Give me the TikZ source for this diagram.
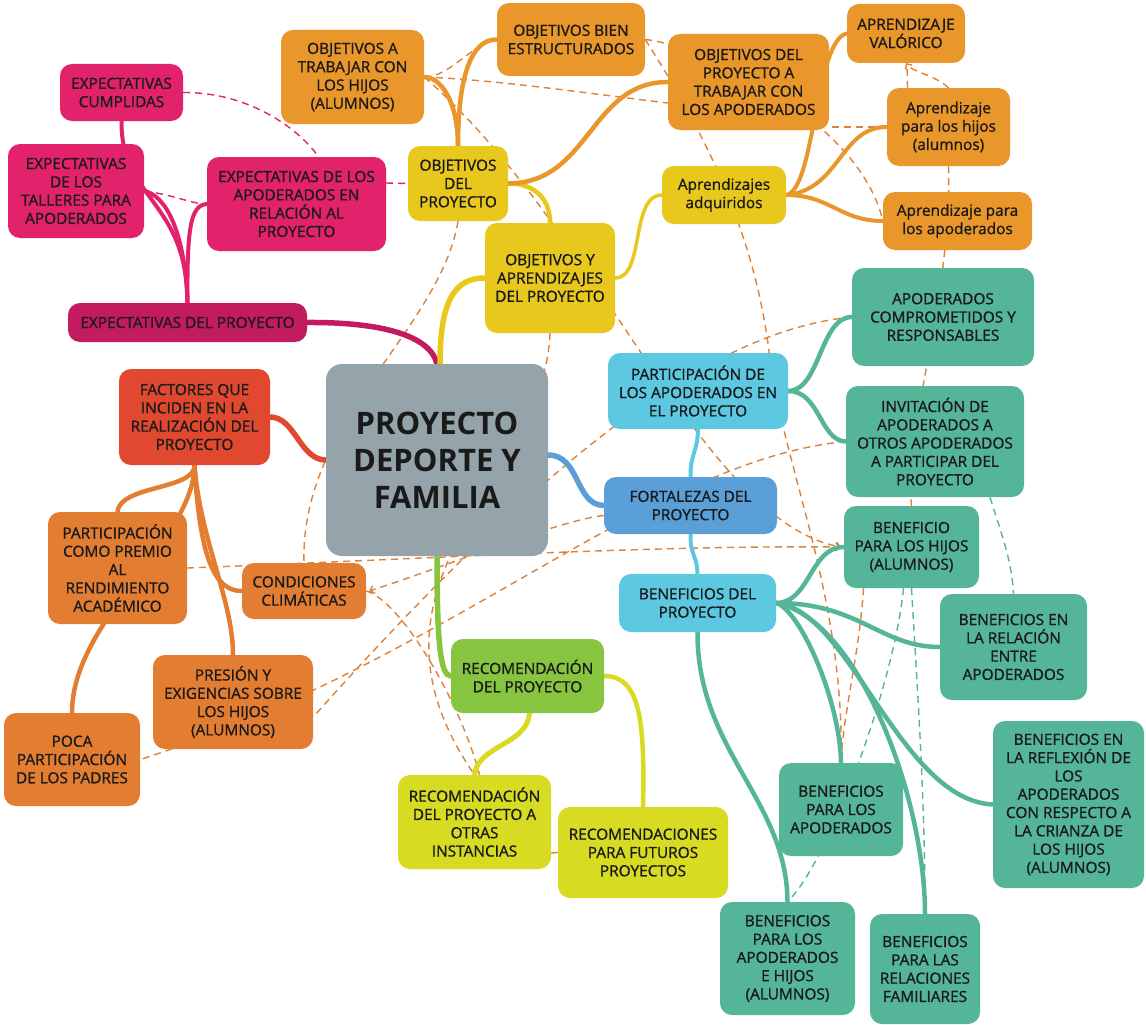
\documentclass[tikz,border=0pt]{standalone}
\usepackage{fontspec}
\setmainfont{Open Sans}
\newfontfamily\boxfont{Open Sans}[FakeBold=1.1]
\usetikzlibrary{backgrounds,arrows.meta}
\definecolor{cpink}{HTML}{E2236C}
\definecolor{cmag}{HTML}{C21B60}
\definecolor{cgold}{HTML}{E9962B}
\definecolor{cyel}{HTML}{E8C81C}
\definecolor{cteal}{HTML}{55B598}
\definecolor{clblue}{HTML}{5DC8E1}
\definecolor{cblue}{HTML}{5B9FD9}
\definecolor{cgray}{HTML}{95A3AB}
\definecolor{cred}{HTML}{E0492F}
\definecolor{corange}{HTML}{E37D32}
\definecolor{cgreen}{HTML}{87C540}
\definecolor{cygreen}{HTML}{D7DB22}
\definecolor{cdash}{HTML}{DD8238}
\definecolor{ctext}{HTML}{1A1A1A}
\tikzset{
  box/.style={rounded corners=12pt, inner sep=0pt, align=center, text=ctext,
    font=\boxfont\fontsize{15.4}{18.3}\selectfont},
  sz/.style 2 args={minimum width=#1pt, minimum height=#2pt},
  conn/.style={line cap=round, line width=#1},
  dsh/.style={draw=cdash, line width=1.4pt, dash pattern=on 7pt off 5pt},
  tdsh/.style={dsh, draw=cteal},
  barb/.style={-{Straight Barb[length=4pt,width=8pt]}}
}
\begin{document}
\begin{tikzpicture}[x=1pt,y=-1pt]
\useasboundingbox (0,0) rectangle (1146,1025);
% nodes
\node[box, fill=cpink, sz={123}{57}] (ec) at (121.5,92.5) {EXPECTATIVAS\\CUMPLIDAS};
\node[box, fill=cpink, sz={136}{94}] (et) at (76,191) {EXPECTATIVAS\\DE LOS\\TALLERES PARA\\APODERADOS};
\node[box, fill=cpink, sz={179}{94}] (ea) at (296.5,204) {EXPECTATIVAS DE LOS\\APODERADOS EN\\RELACIÓN AL\\PROYECTO};
\node[box, fill=cmag, sz={239}{39}] (ep) at (187.5,322.5) {EXPECTATIVAS DEL PROYECTO};
\node[box, fill=cgold, sz={143}{94}] (oat) at (352.5,77) {OBJETIVOS A\\TRABAJAR CON\\LOS HIJOS\\(ALUMNOS)};
\node[box, fill=cgold, sz={148}{73}] (obe) at (571,39.5) {OBJETIVOS BIEN\\ESTRUCTURADOS};
\node[box, fill=cgold, sz={161}{96}] (opa) at (748.5,82) {OBJETIVOS DEL\\PROYECTO A\\TRABAJAR CON\\LOS APODERADOS};
\node[box, fill=cgold, sz={118}{59}] (av) at (906,33.5) {APRENDIZAJE\\VALÓRICO};
\node[box, fill=cgold, sz={123}{78}] (aph) at (948.5,127) {Aprendizaje\\para los hijos\\(alumnos)};
\node[box, fill=cgold, sz={149}{58}] (aap) at (957.5,221) {Aprendizaje para\\los apoderados};
\node[box, fill=cyel, sz={100}{75}] (odp) at (458,183.5) {OBJETIVOS\\DEL\\PROYECTO};
\node[box, fill=cyel, sz={130}{110}] (oya) at (550,278) {OBJETIVOS Y\\APRENDIZAJES\\DEL PROYECTO};
\node[box, fill=cyel, sz={124}{58}] (aa) at (724,195) {Aprendizajes\\adquiridos};
\node[box, fill=cteal, sz={182}{98}] (apc) at (943,317) {APODERADOS\\COMPROMETIDOS Y\\RESPONSABLES};
\node[box, fill=cteal, sz={178}{111}] (inv) at (935,441.5) {INVITACIÓN DE\\APODERADOS A\\OTROS APODERADOS\\A PARTICIPAR DEL\\PROYECTO};
\node[box, fill=cteal, sz={135}{82}] (bh) at (911.5,547) {BENEFICIO\\PARA LOS HIJOS\\(ALUMNOS)};
\node[box, fill=cteal, sz={147}{106}] (bre) at (1013.5,647) {BENEFICIOS EN\\LA RELACIÓN\\ENTRE\\APODERADOS};
\node[box, fill=cteal, sz={151}{167}] (brf) at (1068.5,804.5) {BENEFICIOS EN\\LA REFLEXIÓN DE\\LOS\\APODERADOS\\CON RESPECTO A\\LA CRIANZA DE\\LOS HIJOS\\(ALUMNOS)};
\node[box, fill=cteal, sz={124}{93}] (ba) at (841,809.5) {BENEFICIOS\\PARA LOS\\APODERADOS};
\node[box, fill=cteal, sz={135}{113}] (bah) at (787.5,958.5) {BENEFICIOS\\PARA LOS\\APODERADOS\\E HIJOS\\(ALUMNOS)};
\node[box, fill=cteal, sz={110}{110}] (bfam) at (925,969) {BENEFICIOS\\PARA LAS\\RELACIONES\\FAMILIARES};
\node[box, fill=clblue, sz={180}{76}] (part) at (698,391) {PARTICIPACIÓN DE\\LOS APODERADOS EN\\EL PROYECTO};
\node[box, fill=cblue, sz={173}{57}] (fort) at (690.5,505.5) {FORTALEZAS DEL\\PROYECTO};
\node[box, fill=clblue, sz={157}{58}] (bdp) at (697.5,603) {BENEFICIOS DEL\\PROYECTO};
\node[box, fill=cgray, sz={222}{192}, rounded corners=16pt, font=\fontsize{31}{37}\selectfont\bfseries] (ctr) at (437,460) {PROYECTO\\DEPORTE Y\\FAMILIA};
\node[box, fill=cred, sz={151}{96}] (fac) at (194.5,417) {FACTORES QUE\\INCIDEN EN LA\\REALIZACIÓN DEL\\PROYECTO};
\node[box, fill=corange, sz={139}{112}] (prem) at (117.5,568) {PARTICIPACIÓN\\COMO PREMIO\\AL\\RENDIMIENTO\\ACADÉMICO};
\node[box, fill=corange, sz={124}{56}] (cond) at (304,591) {CONDICIONES\\CLIMÁTICAS};
\node[box, fill=corange, sz={160}{94}] (pres) at (233,702) {PRESIÓN Y\\EXIGENCIAS SOBRE\\LOS HIJOS\\(ALUMNOS)};
\node[box, fill=corange, sz={136}{93}] (poca) at (72,759.5) {POCA\\PARTICIPACIÓN\\DE LOS PADRES};
\node[box, fill=cgreen, sz={153}{74}] (rec) at (527.5,676) {RECOMENDACIÓN\\DEL PROYECTO};
\node[box, fill=cygreen, sz={153}{94}] (oti) at (474.5,822) {RECOMENDACIÓN\\DEL PROYECTO A\\OTRAS\\INSTANCIAS};
\node[box, fill=cygreen, sz={170}{91}] (fut) at (643,852.5) {RECOMENDACIONES\\PARA FUTUROS\\PROYECTOS};

\begin{pgfonlayer}{background}
\fill[white] (0,0) rectangle (1146,1025);
% ---- dashed cross links
\draw[dsh] (oat.east) .. controls (450,77) and (470,45) .. (obe.west);
\draw[dsh] (oat.east) .. controls (500,80) and (600,95) .. ([yshift=-21pt]opa.west);
\draw[dsh, barb] (oat.east) .. controls (600,230) and (700,520) .. ([xshift=-3pt]bh.west);
\draw[dsh] (obe.east) .. controls (700,45) and (860,120) .. (aap.west);
\draw[dsh] (obe.east) .. controls (690,110) and (755,220) .. (770,360) .. controls (785,470) and (845,600) .. (ba.north);
\draw[dsh] ([xshift=-48pt]bh.south) .. controls (860,650) and (842,720) .. (ba.north);
\draw[dsh] (aph.south) .. controls (952,300) and (905,420) .. (bh.north);
\draw[dsh, barb] (aph.north) .. controls (935,75) and (912,72) .. (av.south);
\draw[dsh] ([xshift=-41pt]aph.north) -- ([xshift=1pt]av.south);
\draw[dsh] (aph.west) -- ([yshift=-45pt]opa.east);
\draw[dsh] (odp.south) .. controls (440,330) and (300,420) .. (cond.north);
\draw[dsh] (oya.south) .. controls (545,480) and (340,580) .. (oti.north);
\draw[dsh] (cond.east) .. controls (400,600) and (460,700) .. ([xshift=5pt]oti.north);
\draw[dsh, barb] ([yshift=-10pt]fort.west) .. controls (560,520) and (450,565) .. ([xshift=3pt]cond.east);
\draw[dsh, barb] (prem.east) .. controls (400,560) and (650,545) .. ([xshift=-3pt]bh.west);
\draw[dsh] (apc.west) .. controls (720,330) and (560,440) .. ([yshift=-15pt]pres.east);
\draw[dsh] (inv.west) .. controls (650,460) and (450,660) .. (poca.east);
\draw[dsh] ([yshift=-31pt]oti.east) -- (fut.west);
\draw[tdsh] ([xshift=55pt]inv.south) .. controls (1000,530) and (1012,560) .. (bre.north);
\draw[tdsh] (bh.south) .. controls (918,700) and (925,800) .. (bfam.north);
\draw[tdsh] ([xshift=-8pt]bh.south) .. controls (895,680) and (830,860) .. (bah.north);
% pink dashed
\draw[dsh, draw=cpink] (ec.east) .. controls (250,92) and (300,130) .. ([xshift=22pt]ea.north);
\draw[dsh, draw=cpink] (et.east) .. controls (175,195) and (195,205) .. (ea.west);
\draw[dsh, draw=cpink] ([yshift=21pt]ea.east) -- (odp.west);
% ---- solid branches
\draw[conn=5.5pt, draw=cmag] (ctr.north) .. controls (430,335) and (380,322) .. (ep.east);
\draw[conn=4pt, draw=cpink] (ep.north) .. controls (185,230) and (165,195) .. (et.east);
\draw[conn=4pt, draw=cpink] (ep.north) .. controls (187,200) and (121,200) .. (ec.south);
\draw[conn=4pt, draw=cpink] (ep.north) .. controls (187,230) and (190,205) .. (ea.west);
\draw[conn=5.5pt, draw=cyel] ([xshift=3pt]ctr.north) .. controls (440,300) and (455,278) .. (oya.west);
\draw[conn=4.5pt, draw=cyel] (oya.north) .. controls (550,195) and (530,183) .. (odp.east);
\draw[conn=3.5pt, draw=cyel] (oya.east) .. controls (645,278) and (630,195) .. (aa.west);
\draw[conn=4.5pt, draw=cgold] (odp.north) .. controls (458,100) and (440,77) .. (oat.east);
\draw[conn=4.5pt, draw=cgold] (odp.north) .. controls (458,80) and (470,39) .. (obe.west);
\draw[conn=4.5pt, draw=cgold] (odp.east) .. controls (590,183) and (590,82) .. (opa.west);
\draw[conn=4pt, draw=cgold] (aa.east) .. controls (815,190) and (815,40) .. (av.west);
\draw[conn=4pt, draw=cgold] (aa.east) .. controls (840,190) and (840,127) .. (aph.west);
\draw[conn=4pt, draw=cgold] (aa.east) .. controls (830,195) and (840,221) .. (aap.west);
\draw[conn=5.5pt, draw=cblue] ([yshift=5pt]ctr.east) .. controls (580,455) and (575,505) .. (fort.west);
\draw[conn=4pt, draw=clblue] (fort.north) .. controls (690,455) and (698,450) .. (part.south);
\draw[conn=4pt, draw=clblue] (fort.south) .. controls (690,555) and (697,555) .. (bdp.north);
\draw[conn=4.5pt, draw=cteal] (part.east) .. controls (820,391) and (820,317) .. (apc.west);
\draw[conn=4.5pt, draw=cteal] (part.east) .. controls (820,391) and (820,441) .. (inv.west);
\draw[conn=4.5pt, draw=cteal] (bdp.east) .. controls (810,603) and (810,547) .. (bh.west);
\draw[conn=4.5pt, draw=cteal] (bdp.east) .. controls (860,603) and (880,647) .. (bre.west);
\draw[conn=4.5pt, draw=cteal] (bdp.east) .. controls (850,610) and (900,800) .. (brf.west);
\draw[conn=4.5pt, draw=cteal] (bdp.east) .. controls (800,610) and (840,700) .. (ba.north);
\draw[conn=4.5pt, draw=cteal] (bdp.east) .. controls (860,620) and (925,800) .. (bfam.north);
\draw[conn=4.5pt, draw=cteal] (bdp.south) .. controls (697,750) and (787,800) .. (bah.north);
\draw[conn=5.5pt, draw=cred] (ctr.west) .. controls (300,460) and (295,417) .. (fac.east);
\draw[conn=4.5pt, draw=corange] (fac.south) .. controls (195,490) and (120,485) .. (prem.north);
\draw[conn=4.5pt, draw=corange] (fac.south) .. controls (194,540) and (72,620) .. (poca.north);
\draw[conn=4.5pt, draw=corange] (fac.south) .. controls (200,540) and (233,600) .. (pres.north);
\draw[conn=4.5pt, draw=corange] (fac.south) .. controls (200,560) and (215,591) .. (cond.west);
\draw[conn=5.5pt, draw=cgreen] (ctr.south) .. controls (437,640) and (440,676) .. (rec.west);
\draw[conn=5pt, draw=cygreen] ([xshift=2pt]rec.south) .. controls (527,745) and (478,745) .. (oti.north);
\draw[conn=4.5pt, draw=cygreen] (rec.east) .. controls (640,676) and (645,720) .. (fut.north);
\end{pgfonlayer}
\end{tikzpicture}
\end{document}
